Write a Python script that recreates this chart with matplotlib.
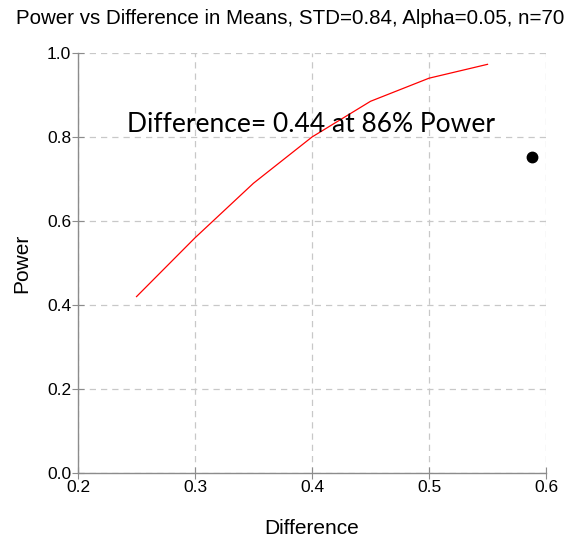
import matplotlib.pyplot as plt

# Dados
diferenca = [0.25, 0.30, 0.35, 0.40, 0.45, 0.50, 0.55]
poder = [0.42, 0.56, 0.69, 0.80, 0.885, 0.94, 0.973]

ponto_x = [0.588]
ponto_y = [0.753]

anotacao = 'Difference= 0.44 at 86% Power'
titulo = 'Power vs Difference in Means, STD=0.84, Alpha=0.05, n=70'

x_ticks = [0.2, 0.3, 0.4, 0.5, 0.6]
y_ticks = [0.0, 0.2, 0.4, 0.6, 0.8, 1.0]

plt.rcParams['font.family'] = ['Liberation Sans', 'DejaVu Sans']

fig = plt.figure(figsize=(5.75, 5.39), dpi=100)
ax = fig.add_axes([0.1357, 0.1224, 0.8139, 0.7793])

ax.plot(diferenca, poder, color='red', linewidth=0.9)
ax.plot(ponto_x, ponto_y, 'o', color='black', markersize=7.5)

ax.text(0.2416, 0.8126, anotacao, family=['Lato', 'DejaVu Sans'],
        fontsize=19, ha='left', va='baseline')

ax.set_xlim(0.2, 0.6)
ax.set_ylim(0.0, 1.0)
ax.set_xticks(x_ticks)
ax.set_yticks(y_ticks)
ax.set_xticklabels([f'{v:.1f}' for v in x_ticks])
ax.set_yticklabels([f'{v:.1f}' for v in y_ticks])

ax.grid(True, linestyle=(0, (5, 4)), color='#c8c8c8', linewidth=0.9)
ax.set_axisbelow(True)
for s in ['top', 'right']:
    ax.spines[s].set_visible(False)
for s in ['left', 'bottom']:
    ax.spines[s].set_color('#8c8c8c')
    ax.spines[s].set_linewidth(1.0)

ax.tick_params(axis='both', direction='inout', length=8, color='#8c8c8c',
               labelsize=12.5, pad=1)

ax.set_xlabel('Difference', fontsize=15, labelpad=17)
ax.set_ylabel('Power', fontsize=15, labelpad=11)
fig.text(0.505, 0.966, titulo, fontsize=14.8, ha='center', va='center')

plt.savefig('out.png', dpi=100)
